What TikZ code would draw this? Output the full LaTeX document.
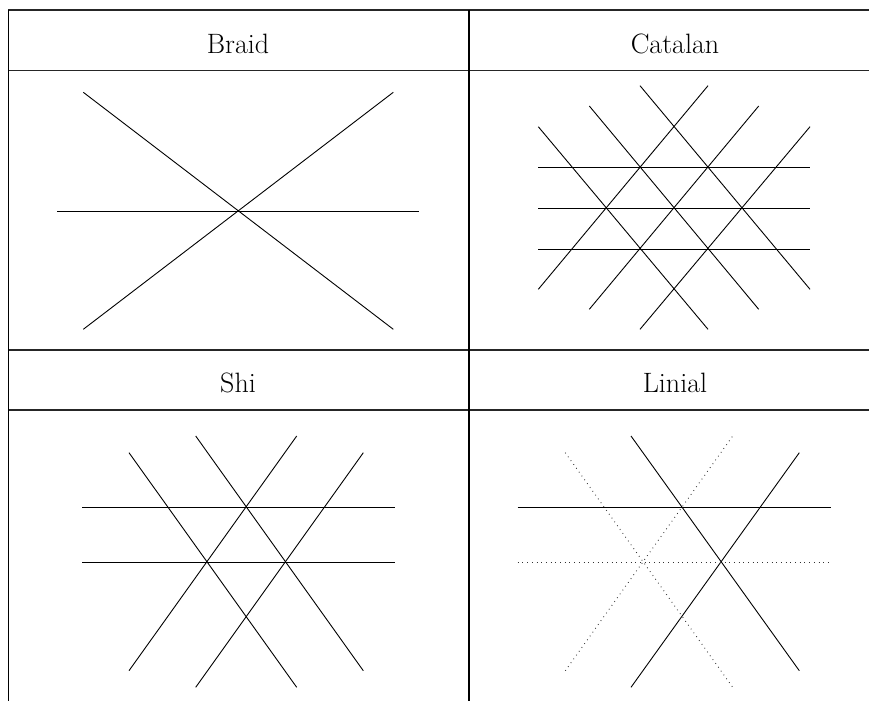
\documentclass[tikz,border=0pt]{standalone}
\usepackage{tikz}
\begin{document}
\begin{tikzpicture}[x=1pt,y=-1pt,
  rule/.style={line width=1.1pt,black!85},
  vrule/.style={line width=1.5pt,black},
  hyp/.style={line width=0.9pt,black},
  dotline/.style={line width=0.9pt,black!80,dash pattern=on 0.8pt off 3.9pt},
  lbl/.style={font=\fontsize{28}{32}\selectfont,anchor=base,inner sep=0pt}]
\useasboundingbox (0,0) rectangle (869,701);
\begin{scope}
\clip (0,0) rectangle (869,701);
% table rules
\draw[rule] (8,10) -- (869,10);
\draw[rule] (8,70.7) -- (869,70.7);
\draw[rule] (8,350) -- (869,350);
\draw[rule] (8,410) -- (869,410);
\draw[vrule] (8.5,10) -- (8.5,701);
\draw[vrule] (469,10) -- (469,701);
% labels
\node[lbl] (braid) at (238,53) {Braid};
\node[lbl] (catalan) at (675,53) {Catalan};
\node[lbl] (shi) at (238,392) {Shi};
\node[lbl] (linial) at (675,392) {Linial};
% Braid
\draw[hyp] (83.3,92.3) -- (393.3,329.3);
\draw[hyp] (393.3,92.3) -- (83.3,329.3);
\draw[hyp] (57.3,211) -- (419.3,211);
% Catalan
\draw[hyp] (640,85.7) -- (810,289.3);
\draw[hyp] (589.3,106) -- (758.7,309.3);
\draw[hyp] (538.3,126.7) -- (708,329.3);
\draw[hyp] (538.3,289.3) -- (708,85.7);
\draw[hyp] (589.3,309.3) -- (758.7,106);
\draw[hyp] (640,329.3) -- (810,126.7);
\draw[hyp] (538.3,167.3) -- (810,167.3);
\draw[hyp] (538.3,208) -- (810,208);
\draw[hyp] (538.3,249) -- (810,249);
% Shi
\draw[hyp] (129,452.7) -- (296.7,687.3);
\draw[hyp] (195.7,436) -- (363.3,670.7);
\draw[hyp] (129,670.7) -- (296.7,436);
\draw[hyp] (195.7,687.3) -- (363.3,452.7);
\draw[hyp] (82,507.3) -- (394.7,507.3);
\draw[hyp] (82,562.3) -- (394.7,562.3);
% Linial
\draw[hyp] (631,436) -- (799.3,670.7);
\draw[hyp] (631,687.3) -- (799.3,452.7);
\draw[dotline] (565.3,452.7) -- (732.7,687.3);
\draw[dotline] (565.3,670.7) -- (732.7,436);
\draw[hyp] (517.7,507.3) -- (830.7,507.3);
\draw[dotline] (517.7,562.3) -- (830.7,562.3);
\end{scope}
\end{tikzpicture}
\end{document}
